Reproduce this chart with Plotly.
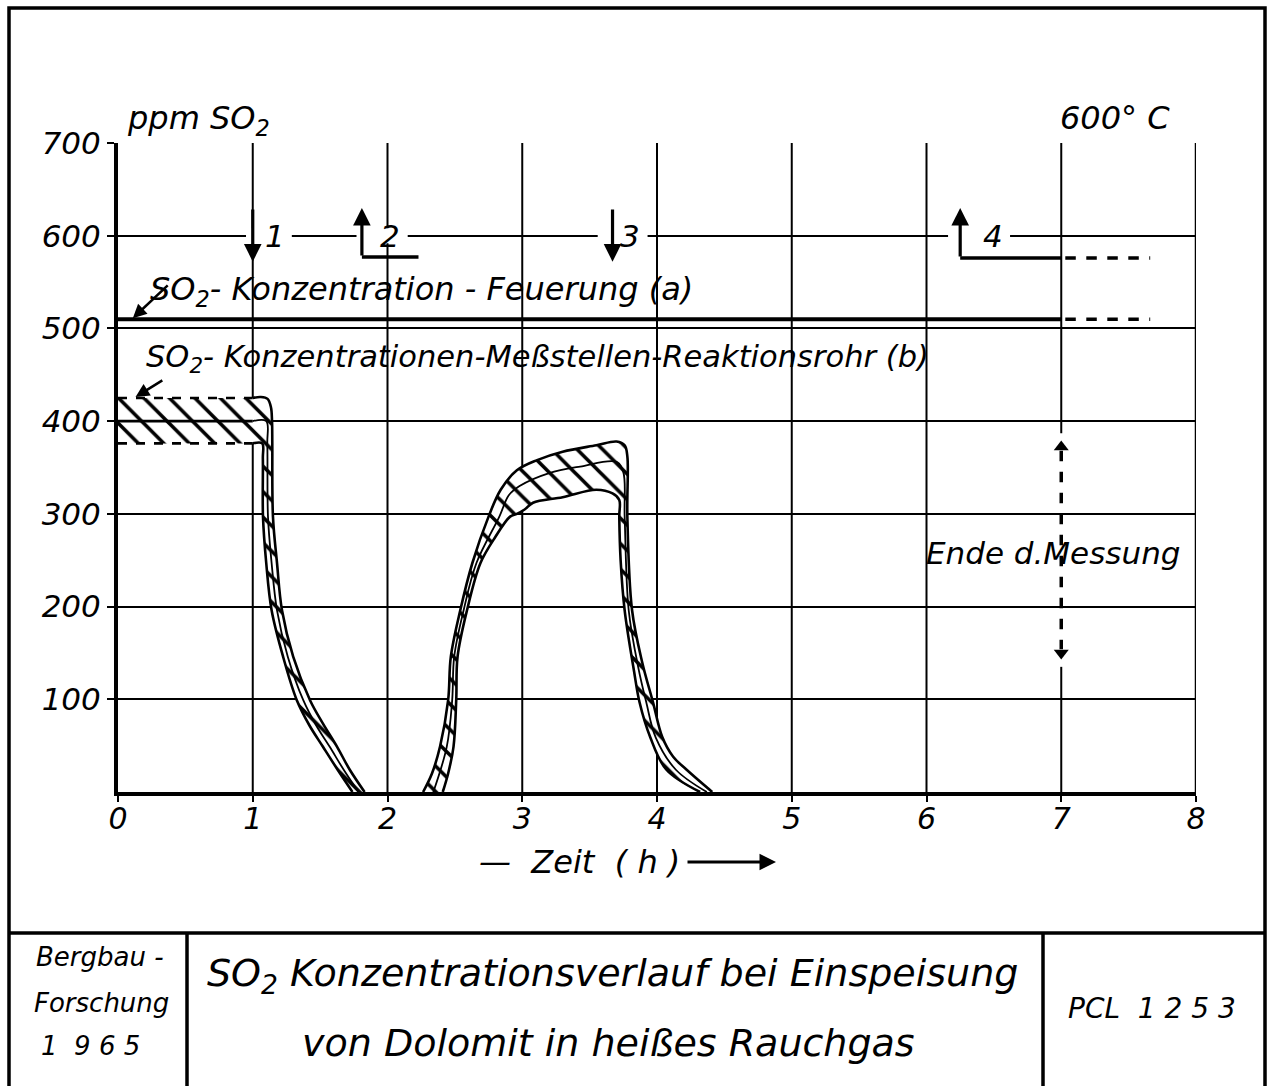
import plotly.graph_objects as go

# ---------------- data (time in h, SO2 in ppm) ----------------
# (a) SO2 concentration in the furnace
feuerung_x = [0.0, 7.0]
feuerung_y = [510, 510]
feuerung_ext_x = [7.03, 7.66]
feuerung_ext_y = [510, 510]

# step 4 line
stufe4_x = [6.25, 7.0]
stufe4_y = [576, 576]
stufe4_ext_x = [7.03, 7.66]
stufe4_ext_y = [576, 576]

# (b) band 1 : plateau + first drop
b1_plateau_x = [0.0, 1.0]
b1_plateau_upper = [425, 425]
b1_plateau_lower = [376, 376]
b1_plateau_mid = [400, 400]

b1_upper_x = [1.0, 1.06, 1.11, 1.135, 1.143, 1.145, 1.15, 1.18, 1.217, 1.30, 1.425, 1.52, 1.625, 1.72, 1.83]
b1_upper_y = [425, 426, 424, 415, 400, 376, 297, 247, 196, 146, 99, 74, 49, 24, 0]
b1_lower_x = [1.0, 1.07, 1.075, 1.076, 1.10, 1.14, 1.225, 1.327, 1.42, 1.52, 1.63, 1.74]
b1_lower_y = [376, 376, 360, 297, 247, 196, 146, 99, 72, 49, 24, 0]
b1_mid_x = [1.0, 1.10, 1.108, 1.113, 1.14, 1.18, 1.26, 1.375, 1.47, 1.57, 1.675, 1.785]
b1_mid_y = [400, 400, 376, 297, 247, 196, 146, 99, 72, 49, 24, 0]

# (b) band 2 : rise, second plateau, drop
b2_upper_x = [2.264, 2.33, 2.39, 2.45, 2.47, 2.54, 2.63, 2.75, 2.84, 2.96, 3.11, 3.30, 3.55, 3.70, 3.76, 3.78,
              3.78, 3.815, 3.89, 3.97, 4.04, 4.12, 4.22, 4.41]
b2_upper_y = [0, 20, 49, 99, 146, 196, 247, 297, 326, 347, 358, 367, 374, 378, 374, 362,
              297, 196, 140, 97, 59, 38, 24, 0]
b2_lower_x = [2.41, 2.45, 2.49, 2.51, 2.52, 2.59, 2.69, 2.80, 2.91, 2.96, 3.02, 3.08, 3.30, 3.55, 3.67, 3.72,
              3.72, 3.73, 3.76, 3.83, 3.87, 3.95, 4.07, 4.32]
b2_lower_y = [0, 20, 49, 99, 146, 196, 247, 275, 297, 300, 305, 312, 318, 326, 322, 315,
              297, 250, 196, 130, 97, 59, 24, 0]
b2_mid_x = [2.34, 2.44, 2.48, 2.495, 2.565, 2.66, 2.83, 2.90, 2.98, 3.2, 3.43, 3.70, 3.75, 3.76, 3.79, 3.86,
            3.92, 3.99, 4.14, 4.37]
b2_mid_y = [0, 49, 99, 146, 196, 247, 297, 320, 330, 344, 351, 356, 345, 297, 196, 135,
            97, 59, 24, 0]

# event markers (arrows at 600 ppm level)
event_x = [1.0, 1.81, 3.67, 6.25]
event_dir = ["down", "up", "down", "up"]
event_labels = ["1", "2", "3", "4"]
event_label_x = [1.165, 2.02, 3.80, 6.49]
step2_x = [1.81, 2.23]
step2_y = [577, 577]

# end of measurement (double arrow on the 7 h line)
ende_x = 7.0
ende_top = 380
ende_bottom = 142

x_ticks = [0, 1, 2, 3, 4, 5, 6, 7, 8]
y_ticks = [100, 200, 300, 400, 500, 600, 700]

# ---------------- layout helpers ----------------
W, H = 1272, 1086
L, R, T, B = 118, 76, 143, 294
PW, PH = W - L - R, H - T - B


def px(x):
    return (x - L) / PW


def py(y):
    return (H - B - y) / PH


FONT = "DejaVu Sans"
ital = dict(family=FONT, style="italic", color="black")
SM = 1.0

fig = go.Figure()

# hatched band polygons
hatch = dict(shape="\\", fgcolor="black", fgopacity=1, bgcolor="white", size=18, solidity=0.2)
poly1_x = b1_plateau_x + b1_upper_x + b1_lower_x[::-1] + b1_plateau_x[::-1]
poly1_y = b1_plateau_upper + b1_upper_y + b1_lower_y[::-1] + b1_plateau_lower[::-1]
poly2_x = b2_upper_x + b2_lower_x[::-1]
poly2_y = b2_upper_y + b2_lower_y[::-1]
for xs, ys in [(poly1_x, poly1_y), (poly2_x, poly2_y)]:
    fig.add_trace(go.Scatter(x=xs, y=ys, mode="lines", fill="toself", fillcolor="white",
                             fillpattern=hatch, line=dict(width=0, shape="spline", smoothing=SM),
                             hoverinfo="skip"))

solid = dict(color="black", width=2.6)
dashed = dict(color="black", width=2.6, dash="dash")
# plateau edges (dashed) and middle
fig.add_trace(go.Scatter(x=b1_plateau_x, y=b1_plateau_upper, mode="lines", line=dashed))
fig.add_trace(go.Scatter(x=b1_plateau_x, y=b1_plateau_lower, mode="lines", line=dashed))
fig.add_trace(go.Scatter(x=b1_plateau_x, y=b1_plateau_mid, mode="lines", line=solid))
for xs, ys in [(b1_upper_x, b1_upper_y), (b1_lower_x, b1_lower_y),
               (b2_upper_x, b2_upper_y), (b2_lower_x, b2_lower_y)]:
    fig.add_trace(go.Scatter(x=xs, y=ys, mode="lines", line=dict(shape="spline", smoothing=SM, **solid)))
for xs, ys in [(b1_mid_x, b1_mid_y), (b2_mid_x, b2_mid_y)]:
    fig.add_trace(go.Scatter(x=xs, y=ys, mode="lines",
                             line=dict(shape="spline", smoothing=SM, color="black", width=1.8)))

# (a) furnace line and step 4
fig.add_trace(go.Scatter(x=feuerung_x, y=feuerung_y, mode="lines", line=dict(color="black", width=4)))
fig.add_trace(go.Scatter(x=feuerung_ext_x, y=feuerung_ext_y, mode="lines",
                         line=dict(color="black", width=3.5, dash="dash")))
fig.add_trace(go.Scatter(x=stufe4_x, y=stufe4_y, mode="lines", line=dict(color="black", width=3.5)))
fig.add_trace(go.Scatter(x=stufe4_ext_x, y=stufe4_ext_y, mode="lines",
                         line=dict(color="black", width=3.5, dash="dash")))
fig.add_trace(go.Scatter(x=step2_x, y=step2_y, mode="lines", line=dict(color="black", width=3.5)))

# Ende d. Messung dashed double arrow
fig.add_trace(go.Scatter(x=[ende_x, ende_x], y=[ende_top - 12, ende_bottom + 12], mode="lines",
                         line=dict(color="black", width=3.5, dash="dash")))
fig.add_trace(go.Scatter(x=[ende_x, ende_x], y=[ende_top - 8, ende_bottom + 8], mode="markers",
                         marker=dict(symbol=["triangle-up", "triangle-down"], size=13, color="black")))

shapes = []
# vertical gridlines
for xv in x_ticks[1:]:
    segs = [(0, 700)] if xv != 7 else [(0, ende_bottom - 7), (ende_top + 7, 700)]
    for y0, y1 in segs:
        shapes.append(dict(type="line", xref="x", yref="y", x0=xv, x1=xv, y0=y0, y1=y1,
                           line=dict(color="black", width=2 if xv < 8 else 2.5), layer="below"))
# white gaps in 600 gridline around the event labels
for a, b in [(0.95, 1.29), (1.77, 2.15), (3.56, 3.93), (6.16, 6.62)]:
    shapes.append(dict(type="rect", xref="x", yref="y", x0=a, x1=b, y0=592, y1=608,
                       fillcolor="white", line=dict(width=0), layer="between"))
# outer drawing frame and title block
fr = dict(color="black", width=3.5)
shapes += [
    dict(type="rect", xref="paper", yref="paper", x0=px(9), x1=px(1265), y0=py(1092), y1=py(8), line=fr),
    dict(type="line", xref="paper", yref="paper", x0=px(9), x1=px(1265), y0=py(933), y1=py(933), line=fr),
    dict(type="line", xref="paper", yref="paper", x0=px(187), x1=px(187), y0=py(933), y1=py(1092), line=fr),
    dict(type="line", xref="paper", yref="paper", x0=px(1043), x1=px(1043), y0=py(933), y1=py(1092), line=fr),
]

ann = []
# event labels
for lx, lab in zip(event_label_x, event_labels):
    ann.append(dict(x=lx, y=600, xref="x", yref="y", text=lab, showarrow=False, xanchor="center",
                    yanchor="middle", font=dict(size=31, **ital)))
# event arrows
for ex, d in zip(event_x, event_dir):
    if d == "down":
        ann.append(dict(x=ex, y=572, ax=ex, ay=630, xref="x", yref="y", axref="x", ayref="y",
                        text="", showarrow=True, arrowhead=2, arrowsize=1.1, arrowwidth=3.2, arrowcolor="black"))
    else:
        y0 = 576 if ex > 5 else 577
        ann.append(dict(x=ex, y=630, ax=ex, ay=y0, xref="x", yref="y", axref="x", ayref="y",
                        text="", showarrow=True, arrowhead=2, arrowsize=1.1, arrowwidth=3.2, arrowcolor="black"))

# curve labels with pointer arrows
ann.append(dict(x=0.22, y=540, xref="x", yref="y", xanchor="left", yanchor="middle",
                text="SO<sub>2</sub>- Konzentration - Feuerung (a)",
                showarrow=False, font=dict(size=32, **ital)))
ann.append(dict(x=0.11, y=511, ax=0.38, ay=548, xref="x", yref="y", axref="x", ayref="y", text="",
                showarrow=True, arrowhead=2, arrowsize=1.1, arrowwidth=2.5, arrowcolor="black"))
ann.append(dict(x=0.19, y=468, xref="x", yref="y", xanchor="left", yanchor="middle",
                text="SO<sub>2</sub>- Konzentrationen-Meßstellen-Reaktionsrohr (b)",
                showarrow=False, font=dict(size=30.5, **ital)))
ann.append(dict(x=0.13, y=426, ax=0.34, ay=445, xref="x", yref="y", axref="x", ayref="y", text="",
                showarrow=True, arrowhead=2, arrowsize=1.1, arrowwidth=2.5, arrowcolor="black"))
ann.append(dict(x=6.94, y=258, xref="x", yref="y", xanchor="center", yanchor="middle",
                text="Ende d.Messung", showarrow=False, font=dict(size=31, **ital)))

# axis headers
ann.append(dict(x=px(125), y=py(120), xref="paper", yref="paper", xanchor="left", yanchor="middle",
                text="ppm SO<sub>2</sub>", showarrow=False, font=dict(size=32, **ital)))
ann.append(dict(x=px(1172), y=py(118), xref="paper", yref="paper", xanchor="right", yanchor="middle",
                text="600° C", showarrow=False, font=dict(size=32, **ital)))
ann.append(dict(x=px(682), y=py(862), xref="paper", yref="paper", xanchor="right", yanchor="middle",
                text="—  Zeit  ( h )", showarrow=False, font=dict(size=32, **ital)))
ann.append(dict(x=px(776), y=py(862), ax=-90, ay=0, xref="paper", yref="paper",
                axref="pixel", ayref="pixel", text="", showarrow=True, arrowhead=2, arrowsize=1.1,
                arrowwidth=3, arrowcolor="black"))

# title block
tb = [
    dict(x=px(100), y=py(957), text="Bergbau -", font=dict(size=26, **ital)),
    dict(x=px(101), y=py(1003), text="Forschung", font=dict(size=26, **ital)),
    dict(x=px(90), y=py(1046), text="1  9 6 5", font=dict(size=26, **ital)),
    dict(x=px(612), y=py(975), text="SO<sub>2</sub> Konzentrationsverlauf bei Einspeisung", font=dict(size=38, **ital)),
    dict(x=px(608), y=py(1043), text="von Dolomit in heißes Rauchgas", font=dict(size=38, **ital)),
    dict(x=px(1152), y=py(1008), text="PCL  1 2 5 3", font=dict(size=28, **ital)),
]
for a in tb:
    a.update(xref="paper", yref="paper", showarrow=False, xanchor="center", yanchor="middle")
ann += tb

fig.update_layout(
    width=W, height=H, margin=dict(l=L, r=R, t=T, b=B),
    paper_bgcolor="white", plot_bgcolor="white", showlegend=False,
    shapes=shapes, annotations=ann,
    xaxis=dict(range=[0, 8], tickvals=x_ticks, ticktext=[str(v) for v in x_ticks], showgrid=False,
               zeroline=False, showline=True, linecolor="black", linewidth=4, ticks="outside",
               ticklen=6, tickwidth=2, tickcolor="black", tickfont=dict(size=30, **ital),
               ticklabelstandoff=-9, fixedrange=True),
    yaxis=dict(range=[0, 700], tickvals=y_ticks, ticktext=[str(v) for v in y_ticks], showgrid=True,
               gridcolor="black", gridwidth=2, zeroline=False, showline=True, linecolor="black", linewidth=4,
               ticks="outside", ticklen=7, tickwidth=2, tickcolor="black", tickfont=dict(size=31, **ital),
               fixedrange=True),
)

fig.write_html("out.html")
